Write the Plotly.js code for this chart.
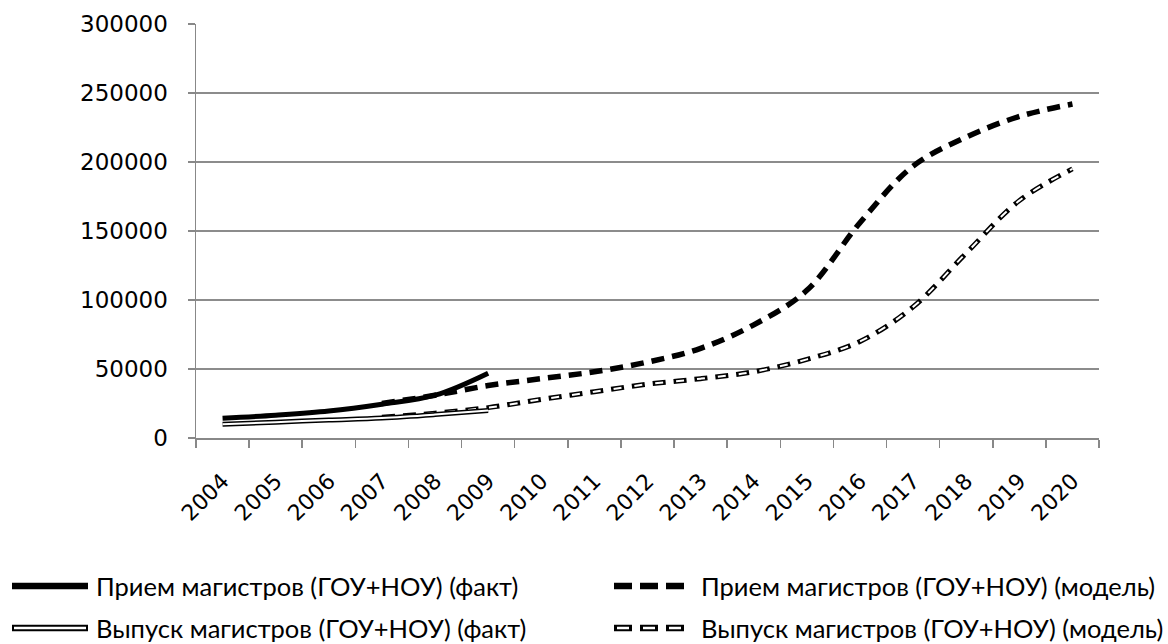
<!DOCTYPE html>
<html>
<head>
<meta charset="utf-8">
<script src="https://cdn.plot.ly/plotly-3.0.1.min.js"></script>
<style>html,body{margin:0;padding:0;background:#fff;}#chart{width:1168px;height:644px;}</style>
</head>
<body>
<div id="chart"></div>
<script>
// ---- data ----
var years = ['2004','2005','2006','2007','2008','2009','2010','2011','2012','2013','2014','2015','2016','2017','2018','2019','2020'];
var factYears = ['2004','2005','2006','2007','2008','2009'];
var modelYears = ['2007','2008','2009','2010','2011','2012','2013','2014','2015','2016','2017','2018','2019','2020'];
var admissionFact = [14300, 16500, 19500, 24500, 31000, 47000];
var graduatesFact = [10000, 11500, 13000, 14500, 17000, 20000];
var admissionModel = [25000, 31000, 38000, 43000, 48000, 55000, 65000, 82000, 107000, 156000, 197000, 218000, 233000, 242000];
var graduatesModel = [15000, 18000, 22000, 28000, 33500, 39000, 43000, 48000, 57000, 70000, 95000, 134000, 172000, 195000];
var yTicks = [0, 50000, 100000, 150000, 200000, 250000, 300000];
var seriesNames = [
  'Прием магистров (ГОУ+НОУ) (факт)',
  'Выпуск магистров (ГОУ+НОУ) (факт)',
  'Прием магистров (ГОУ+НОУ) (модель)',
  'Выпуск магистров (ГОУ+НОУ) (модель)'
];

// ---- layout constants ----
var W = 1168, H = 644;
var mL = 196, mR = 69, mT = 24, mB = 206;
var pw = W - mL - mR, ph = H - mT - mB;
function px2x(p){ return (p - mL) / pw; }
function py2y(p){ return (H - mB - p) / ph; }

var DASH = '13px,8px';
var DASH_IN = '0px,2.5px,8px,10.5px';

var traces = [
  {x: modelYears, y: graduatesModel, mode:'lines', line:{color:'#000', width:5, dash:DASH, shape:'spline'}},
  {x: modelYears, y: graduatesModel, mode:'lines', line:{color:'#fff', width:2, dash:DASH_IN, shape:'spline'}},
  {x: modelYears, y: admissionModel, mode:'lines', line:{color:'#000', width:5.5, dash:DASH, shape:'spline'}},
  {x: factYears, y: graduatesFact, mode:'lines', line:{color:'#000', width:5, shape:'spline'}},
  {x: factYears, y: graduatesFact, mode:'lines', line:{color:'#fff', width:2, shape:'spline'}},
  {x: factYears, y: admissionFact, mode:'lines', line:{color:'#000', width:5, shape:'spline'}}
];
traces.forEach(function(t){ t.showlegend = false; t.hoverinfo = 'skip'; });

// ---- custom legend ----
var shapes = [], annotations = [];
var rows = [586, 628];
var legendFont = {family:'Lato, "Open Sans", sans-serif', size:25.5, color:'#000'};
function addSample(x0, x1, yp, style){
  shapes.push({type:'line', xref:'paper', yref:'paper', x0:px2x(x0), x1:px2x(x1), y0:py2y(yp), y1:py2y(yp),
    line:{color:style.color, width:style.width, dash:style.dash || 'solid'}});
}
// col 1
addSample(12, 88, rows[0], {color:'#000', width:6.5});
addSample(12, 88, rows[1], {color:'#000', width:6.5});
addSample(14, 86, rows[1], {color:'#fff', width:2.5});
// col 2
addSample(614, 686, rows[0], {color:'#000', width:6.5, dash:'18px,8px'});
addSample(614, 686, rows[1], {color:'#000', width:6.5, dash:'18px,8px'});
addSample(614, 686, rows[1], {color:'#fff', width:2.5, dash:'0px,3px,12px,11px'});
var textX = [94, 94, 699, 699];
var textY = [rows[0], rows[1], rows[0], rows[1]];
for (var i = 0; i < 4; i++) {
  annotations.push({xref:'paper', yref:'paper', x:px2x(textX[i]), y:py2y(textY[i]), xanchor:'left', yanchor:'middle',
    text: seriesNames[i], showarrow:false, font:legendFont});
}

var layout = {
  width: W, height: H,
  margin: {l:mL, r:mR, t:mT, b:mB, pad:0},
  paper_bgcolor:'#fff', plot_bgcolor:'#fff',
  hovermode:false,
  showlegend:false,
  font:{family:'"DejaVu Sans", sans-serif', size:22, color:'#000'},
  xaxis:{
    type:'category', categoryorder:'array', categoryarray:years, range:[-0.5, years.length-0.5],
    tickmode:'array', tickvals:years, ticktext:years,
    tickson:'boundaries', ticks:'outside', ticklen:8, tickwidth:1.5, tickcolor:'#888',
    showline:true, linecolor:'#888', linewidth:1.5, showgrid:false, zeroline:false,
    tickangle:-45, ticklabelstandoff:20,
    tickfont:{family:'"DejaVu Sans", sans-serif', size:22, color:'#000'}
  },
  yaxis:{
    range:[0, 300000], tickmode:'array', tickvals:yTicks, ticktext:yTicks.map(String),
    ticks:'outside', ticklen:7, tickwidth:1.5, tickcolor:'#888',
    showline:true, linecolor:'#888', linewidth:1.5,
    showgrid:true, gridcolor:'#8c8c8c', gridwidth:1.5, zeroline:false,
    ticklabelstandoff:15,
    tickfont:{family:'"DejaVu Sans", sans-serif', size:23, color:'#000'}
  },
  shapes: shapes,
  annotations: annotations
};

Plotly.newPlot('chart', traces, layout, {staticPlot:true, displayModeBar:false});
</script>
</body>
</html>
